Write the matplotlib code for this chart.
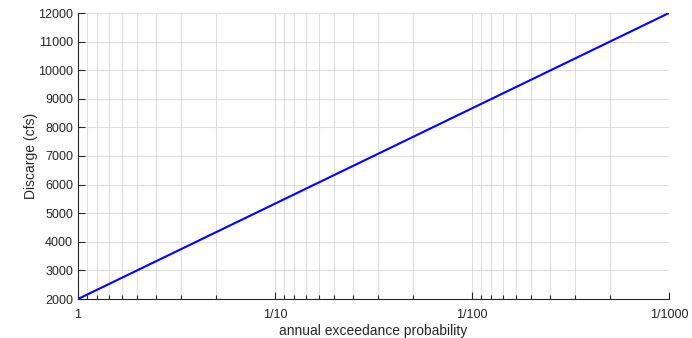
import numpy as np
import matplotlib.pyplot as plt
from matplotlib.ticker import FixedLocator, NullFormatter

# data
prob = [1.0, 0.001]
discharge = [2000, 12000]

major_p = [1, 0.1, 0.01, 0.001]
major_labels = ["1", "1/10", "1/100", "1/1000"]
minor_p = [m * d for d in (1, 0.1, 0.01) for m in (0.9, 0.8, 0.7, 0.6, 0.5, 0.4, 0.3, 0.2)]
y_ticks = list(range(2000, 12001, 1000))

txt = "#262626"
plt.rcParams["font.family"] = ["Liberation Sans", "DejaVu Sans"]
plt.rcParams["font.size"] = 9

fig = plt.figure(figsize=(6.92, 3.38), dpi=100)
ax = fig.add_axes([78 / 692, 1 - 299 / 338, (669 - 78) / 692, (299 - 13) / 338])

ax.plot(prob, discharge, color=(0, 0, 1), lw=1.5, zorder=3)

ax.set_xscale("log")
ax.set_xlim(1, 0.001)
ax.set_ylim(2000, 12000)

ax.xaxis.set_major_locator(FixedLocator(major_p))
ax.set_xticklabels(major_labels)
ax.xaxis.set_minor_locator(FixedLocator(minor_p))
ax.xaxis.set_minor_formatter(NullFormatter())
ax.set_yticks(y_ticks)

ax.grid(True, which="both", axis="x", color="#dedede", lw=0.8)
ax.grid(True, which="major", axis="y", color="#dedede", lw=0.8)
ax.set_axisbelow(True)

for s in ("top", "right"):
    ax.spines[s].set_visible(False)
for s in ("left", "bottom"):
    ax.spines[s].set_color(txt)
    ax.spines[s].set_linewidth(0.8)

ax.tick_params(which="major", direction="in", length=5, width=0.8, colors=txt, labelsize=9)
ax.tick_params(which="minor", direction="in", length=3, width=0.8, colors=txt)
ax.tick_params(axis="x", pad=7)

ax.set_xlabel("annual exceedance probability", color=txt, fontsize=10, labelpad=2)
ax.set_ylabel("Discarge (cfs)", color=txt, fontsize=10, labelpad=0)

fig.savefig("out.png", dpi=100)
